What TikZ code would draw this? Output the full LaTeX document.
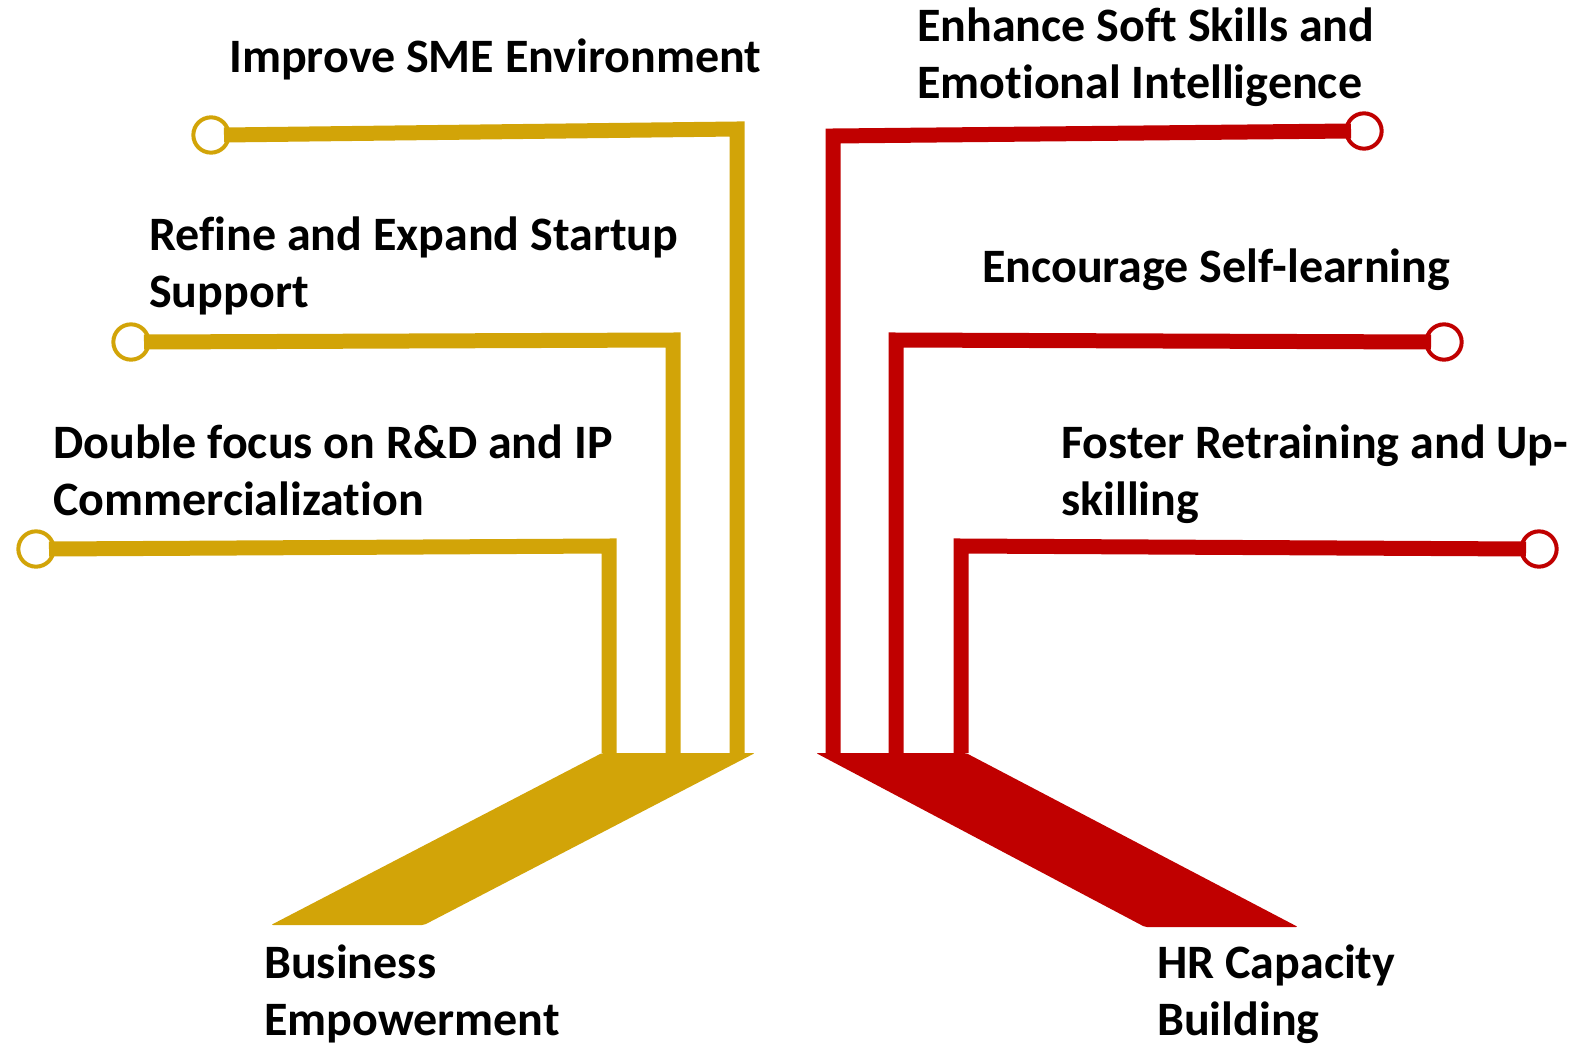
\documentclass[tikz,border=0pt]{standalone}
\usepackage{fontspec}
\setmainfont{Carlito}[RawFeature={-liga;-clig;-calt;-dlig}]
\usetikzlibrary{positioning}
\definecolor{goldbar}{RGB}{210,164,8}
\definecolor{redbar}{RGB}{192,0,0}

\begin{document}
\begin{tikzpicture}[x=0.75pt,y=-0.75pt,line join=miter]
  \tikzstyle{ring}=[circle,draw,line width=3pt,fill=white,minimum size=26.5pt,inner sep=0pt]
  \tikzstyle{bar}=[line width=11.25pt]
  \tikzstyle{itemtext}=[anchor=base west,inner sep=0pt,align=left,
                        font=\fontsize{36}{42.75}\selectfont\bfseries]
  \useasboundingbox (0,0) rectangle (1577,1045);

  % business empowerment
  \node[ring,draw=goldbar] (sme)   at (211,135) {};
  \node[ring,draw=goldbar] (start) at (131,342) {};
  \node[ring,draw=goldbar] (rnd)   at (36,549)  {};
  \coordinate (smecorner)   at (737,129);
  \coordinate (smefoot)     at (737,753);
  \coordinate (startcorner) at (673,340);
  \coordinate (startfoot)   at (673,753);
  \coordinate (rndcorner)   at (609,546);
  \coordinate (rndfoot)     at (609,753);

  \draw[bar,goldbar] ([xshift=-5pt]sme.east) -- (smecorner) -- (smefoot);
  \draw[bar,goldbar] ([xshift=-5pt]start.east) -- (startcorner) -- (startfoot);
  \draw[bar,goldbar] ([xshift=-5pt]rnd.east) -- (rndcorner) -- (rndfoot);
  \fill[goldbar,rounded corners=1.5pt] (602,753) -- (755,753) -- (424,925) -- (271,925) -- cycle;

  % base west sits on the last line
  \node[itemtext] (smetext)   at (229,73)   {Improve SME Environment};
  \node[itemtext] (starttext) at (149,307)  {Refine and Expand Startup\\Support};
  \node[itemtext] (rndtext)   at (53,515)   {Double focus on R\&D and IP\\Commercialization};
  \node[itemtext] (business)  at (264,1035) {Business\\Empowerment};

  % hr capacity building
  \node[ring,draw=redbar] (soft)  at (1364,131) {};
  \node[ring,draw=redbar] (self)  at (1444,342) {};
  \node[ring,draw=redbar] (skill) at (1539,549) {};
  \coordinate (softcorner)  at (833,136);
  \coordinate (softfoot)    at (833,753);
  \coordinate (selfcorner)  at (896,340);
  \coordinate (selffoot)    at (896,753);
  \coordinate (skillcorner) at (961,546);
  \coordinate (skillfoot)   at (961,753);

  \draw[bar,redbar] ([xshift=5pt]soft.west) -- (softcorner) -- (softfoot);
  \draw[bar,redbar] ([xshift=5pt]self.west) -- (selfcorner) -- (selffoot);
  \draw[bar,redbar] ([xshift=5pt]skill.west) -- (skillcorner) -- (skillfoot);
  \fill[redbar,rounded corners=1.5pt] (816,753) -- (966,753) -- (1298,927) -- (1145,927) -- cycle;

  \node[itemtext] (softtext)  at (917,99)   {Enhance Soft Skills and\\Emotional Intelligence};
  \node[itemtext] (selftext)  at (982,282)  {Encourage Self-learning};
  \node[itemtext] (skilltext) at (1061,515) {Foster Retraining and Up-\\skilling};
  \node[itemtext] (hr)        at (1157,1035) {HR Capacity\\Building};
\end{tikzpicture}
\end{document}
